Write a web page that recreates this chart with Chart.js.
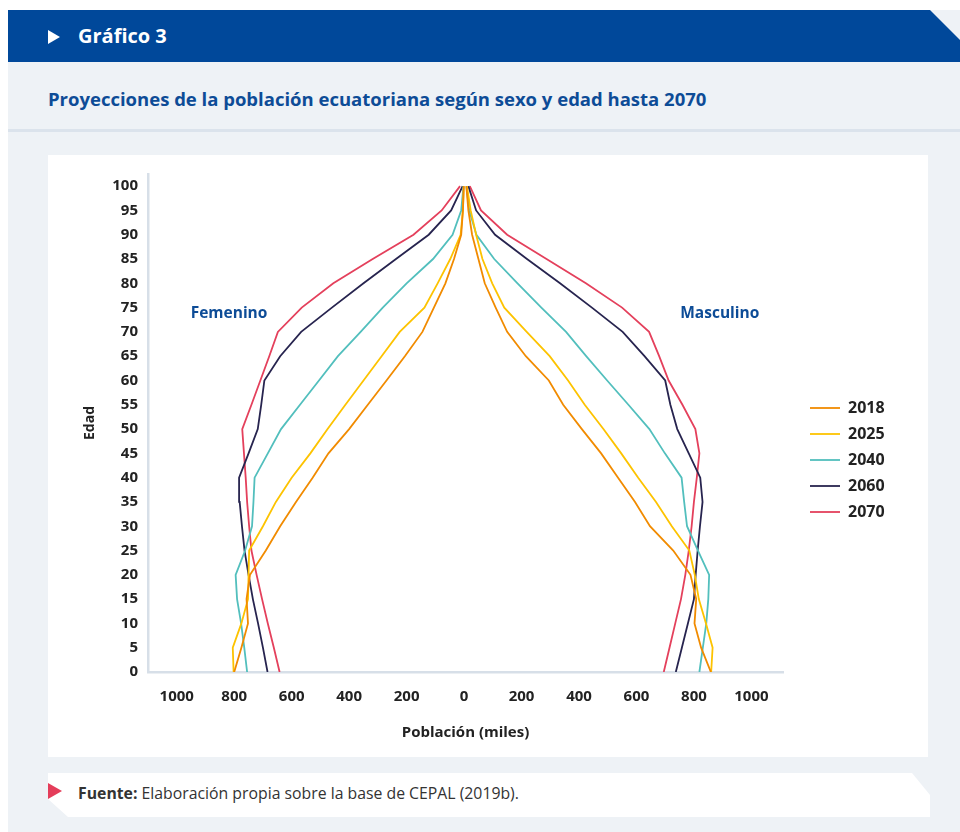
<!DOCTYPE html>
<html lang="es">
<head>
<meta charset="utf-8">
<title>Gráfico 3</title>
<script src="https://cdn.jsdelivr.net/npm/chart.js@4.4.1/dist/chart.umd.min.js"></script>
<style>
  html, body { margin: 0; padding: 0; background: #fff; }
  body { width: 960px; height: 832px; position: relative; overflow: hidden; font-family: "Open Sans", "Noto Sans", sans-serif; }
  .fondo { position: absolute; left: 8px; top: 10px; width: 952px; height: 822px; background: #eef2f6; }
  .cabecera { position: absolute; left: 8px; top: 10px; width: 952px; height: 52px; background: #00489a;
    clip-path: polygon(0 0, 922px 0, 100% 30px, 100% 100%, 0 100%); }
  .cabecera .flecha { position: absolute; left: 40px; top: 20px; width: 0; height: 0;
    border-top: 7px solid transparent; border-bottom: 7px solid transparent; border-left: 12px solid #fff; }
  .cabecera h1 { position: absolute; left: 70px; top: 12px; margin: 0; color: #fff; font-size: 20px; font-weight: 700; }
  .subtitulo { position: absolute; left: 48px; top: 86px; margin: 0; color: #0d4c97; font-size: 18.5px; font-weight: 700; }
  .linea { position: absolute; left: 8px; top: 129px; width: 952px; height: 3px; background: #dbe3ec; }
  .tarjeta { position: absolute; left: 48px; top: 155px; width: 880px; height: 602px; background: #fff; }
  .fuente { position: absolute; left: 48px; top: 773px; width: 882px; height: 44px; background: #fff;
    clip-path: polygon(0 0, 864px 0, 100% 22px, 100% 100%, 20px 100%, 0 26px); }
  .fuente .marca { position: absolute; left: 0; top: 10px; width: 0; height: 0;
    border-top: 8px solid transparent; border-bottom: 8px solid transparent; border-left: 14px solid #e43d5a; }
  .fuente p { position: absolute; left: 30px; top: 9px; margin: 0; font-size: 15.8px; color: #333; }
</style>
</head>
<body>
<div class="fondo"></div>
<div class="cabecera"><div class="flecha"></div><h1>Gráfico 3</h1></div>
<p class="subtitulo">Proyecciones de la población ecuatoriana según sexo y edad hasta 2070</p>
<div class="linea"></div>
<div class="tarjeta"><canvas id="piramide" width="880" height="602"></canvas></div>
<div class="fuente"><div class="marca"></div><p><b>Fuente:</b> Elaboración propia sobre la base de CEPAL (2019b).</p></div>

<script>
const edades = [0, 5, 10, 15, 20, 25, 30, 35, 40, 45, 50, 55, 60, 65, 70, 75, 80, 85, 90, 95, 100];
const anios = ["2018", "2025", "2040", "2060", "2070"];
const xTicks = [-1000, -800, -600, -400, -200, 0, 200, 400, 600, 800, 1000];

// miles de personas, mujeres
const fem2018 = [800, 775, 752, 757, 745, 690, 640, 585, 527, 472, 400, 335, 270, 206, 145, 105, 65, 35, 10, 4, 1];
const fem2025 = [802, 805, 775, 752, 750, 748, 700, 655, 600, 535, 475, 413, 350, 287, 224, 138, 92, 48, 12, 4, 1];
const fem2040 = [755, 765, 776, 790, 795, 762, 738, 733, 729, 683, 637, 571, 505, 439, 360, 283, 200, 108, 40, 10, 2];
const fem2060 = [684, 700, 717, 735, 750, 764, 773, 781, 783, 750, 718, 706, 695, 640, 567, 460, 350, 237, 123, 45, 5];
const fem2070 = [642, 662, 683, 703, 722, 740, 748, 755, 760, 766, 772, 740, 709, 678, 648, 565, 455, 318, 176, 78, 14];

// miles de personas, hombres
const masc2018 = [859, 825, 802, 808, 788, 728, 647, 595, 536, 477, 410, 345, 295, 215, 150, 110, 72, 50, 28, 15, 8];
const masc2025 = [860, 865, 842, 817, 803, 784, 723, 668, 606, 547, 485, 420, 362, 298, 218, 140, 98, 64, 42, 23, 10];
const masc2040 = [819, 831, 843, 850, 853, 814, 776, 766, 757, 699, 645, 572, 498, 425, 355, 269, 186, 105, 43, 18, 8];
const masc2060 = [737, 758, 779, 800, 806, 813, 821, 830, 822, 782, 742, 718, 700, 628, 552, 445, 334, 219, 108, 42, 15];
const masc2070 = [695, 715, 735, 755, 770, 782, 792, 800, 810, 819, 805, 760, 712, 679, 644, 550, 424, 287, 150, 59, 20];

const mujeres = [fem2018, fem2025, fem2040, fem2060, fem2070];
const hombres = [masc2018, masc2025, masc2040, masc2060, masc2070];
const colores = ["#f18b00", "#fdc300", "#52bfbd", "#27244f", "#e4405c"];

Chart.defaults.font.family = "'Open Sans', 'Noto Sans', sans-serif";
Chart.defaults.color = "#222";

const datasets = [];
anios.forEach((anio, i) => {
  datasets.push({
    label: anio,
    data: edades.map((e, k) => ({ x: -mujeres[i][k], y: e })),
    borderColor: colores[i],
    backgroundColor: colores[i],
    borderWidth: 1.8,
    pointRadius: 0,
    tension: 0
  });
  datasets.push({
    label: anio + " hombres",
    data: edades.map((e, k) => ({ x: hombres[i][k], y: e })),
    borderColor: colores[i],
    backgroundColor: colores[i],
    borderWidth: 1.8,
    pointRadius: 0,
    tension: 0
  });
});

// etiquetas Femenino / Masculino y ajuste de la leyenda
const extras = {
  id: "extras",
  afterLayout(chart) {
    const lg = chart.legend;
    lg.left += 17;
    lg.right += 60;
    lg.top -= 5;
    lg.bottom -= 5;
  },
  afterDatasetsDraw(chart) {
    const { ctx, scales } = chart;
    ctx.save();
    ctx.font = "bold 15.5px 'Open Sans', sans-serif";
    ctx.fillStyle = "#0d4c97";
    ctx.textAlign = "center";
    ctx.textBaseline = "middle";
    ctx.fillText("Femenino", scales.x.getPixelForValue(-818), scales.y.getPixelForValue(73.8));
    ctx.fillText("Masculino", scales.x.getPixelForValue(890), scales.y.getPixelForValue(73.8));
    ctx.restore();
  }
};

new Chart(document.getElementById("piramide"), {
  type: "line",
  data: { datasets },
  options: {
    responsive: false,
    animation: false,
    layout: { padding: { left: 0, right: 65, top: 18, bottom: 0 } },
    plugins: {
      legend: {
        position: "right",
        align: "center",
        maxWidth: 80,
        labels: {
          filter: (item) => item.datasetIndex % 2 === 0,
          usePointStyle: true,
          pointStyle: "line",
          pointStyleWidth: 30,
          padding: 10,
          color: "#222",
          font: { size: 16, weight: "bold" }
        }
      },
      tooltip: { enabled: false }
    },
    scales: {
      x: {
        type: "linear",
        min: -1100,
        max: 1110,
        afterBuildTicks: (s) => { s.ticks = xTicks.map(v => ({ value: v })); },
        afterFit: (s) => { s.height = 85; },
        ticks: {
          callback: (v) => Math.abs(v),
          padding: 16,
          maxRotation: 0,
          autoSkip: false,
          color: "#222",
          font: { size: 15, weight: "bold" }
        },
        grid: { display: false, drawTicks: false },
        border: { display: true, color: "#d7dfe8", width: 2.5 },
        title: {
          display: true,
          text: "Población (miles)",
          color: "#222",
          font: { size: 15, weight: "bold" },
          padding: { top: 0, bottom: 15 }
        }
      },
      y: {
        type: "linear",
        min: 0,
        max: 102.5,
        afterFit: (s) => { s.width = 100; },
        ticks: {
          stepSize: 5,
          includeBounds: false,
          padding: 10,
          autoSkip: false,
          color: "#222",
          font: { size: 15, weight: "bold" }
        },
        grid: { display: false, drawTicks: false },
        border: { display: true, color: "#d7dfe8", width: 2.5 },
        title: {
          display: true,
          text: "Edad",
          color: "#222",
          font: { size: 14, weight: "bold" },
          padding: { top: 34, bottom: 0 }
        }
      }
    }
  },
  plugins: [extras]
});
</script>
</body>
</html>
